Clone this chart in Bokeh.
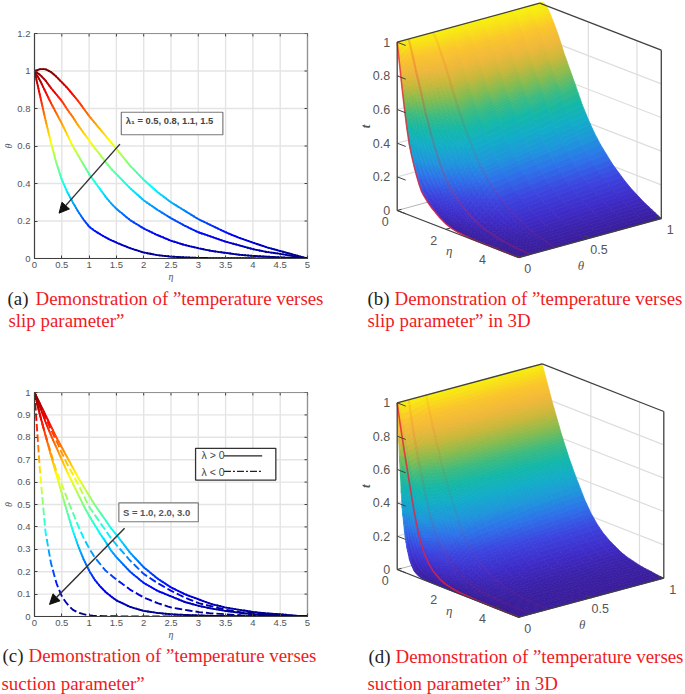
from bokeh.plotting import figure
from bokeh.layouts import column, row
from bokeh.models import (Range1d, LinearAxis, FixedTicker, Label, Arrow, NormalHead)
from bokeh.core.properties import value
from bokeh.embed import file_html
from bokeh.resources import INLINE
import numpy as np

ETA = [0, .1, .2, .3, .4, .5, .6, .7, .8, .9, 1, 1.1, 1.2, 1.3, 1.4, 1.5, 1.75, 2, 2.25, 2.5,
       2.75, 3, 3.25, 3.5, 3.75, 4, 4.25, 4.5, 4.75, 5]

# panel (a): slip parameter curves
A1 = [1, 1.01, 1.01, .995, .97, .94, .91, .875, .84, .80, .76, .725, .69, .655, .62, .585, .495, .42,
      .355, .30, .255, .21, .175, .14, .11, .085, .06, .04, .02, 0]
A2 = [1, .98, .95, .91, .875, .84, .795, .755, .71, .67, .63, .59, .555, .515, .48, .45, .375, .31,
      .26, .215, .175, .14, .115, .09, .07, .05, .035, .025, .012, 0]
A3 = [1, .95, .89, .83, .775, .72, .66, .60, .55, .50, .45, .41, .37, .33, .295, .265, .205, .16,
      .125, .095, .072, .055, .04, .03, .02, .014, .01, .006, .003, 0]
A4 = [1, .87, .74, .62, .51, .42, .355, .30, .25, .207, .17, .148, .13, .113, .098, .085, .055, .032,
      .018, .01, .006, .003, .002, .001, .001, .001, 0, 0, 0, 0]

# panel (c): suction parameter curves, solid and dashed
S1 = [1, .95, .90, .85, .80, .755, .71, .665, .62, .58, .54, .50, .465, .43, .395, .365, .285, .22,
      .17, .13, .10, .077, .055, .04, .03, .02, .014, .01, .004, 0]
D1 = [1, .945, .89, .835, .785, .73, .68, .635, .59, .54, .49, .455, .42, .385, .35, .32, .25, .19,
      .15, .115, .085, .06, .045, .03, .02, .015, .01, .006, .003, 0]
S2 = [1, .935, .87, .81, .755, .70, .645, .595, .545, .495, .45, .41, .37, .335, .295, .265, .20, .15,
      .115, .09, .065, .048, .035, .025, .017, .01, .007, .004, .002, 0]
D2 = [1, .90, .81, .73, .65, .59, .525, .465, .405, .35, .305, .265, .235, .205, .185, .165, .12, .085,
      .06, .04, .03, .02, .014, .01, .006, .004, .002, .001, .001, 0]
S3 = [1, .90, .81, .72, .635, .55, .465, .385, .315, .255, .205, .165, .135, .11, .09, .072, .043, .025,
      .016, .01, .007, .005, .003, .002, .001, .001, 0, 0, 0, 0]
D3 = [1, .65, .38, .24, .15, .09, .055, .03, .018, .01, .005, .003, .002, .001, .001, .001, 0, 0,
      0, 0, 0, 0, 0, 0, 0, 0, 0, 0, 0, 0]

X_TICKS = [0, .5, 1, 1.5, 2, 2.5, 3, 3.5, 4, 4.5, 5]
X_LABELS = ["0", "0.5", "1", "1.5", "2", "2.5", "3", "3.5", "4", "4.5", "5"]
YA_TICKS = [0, .2, .4, .6, .8, 1, 1.2]
YA_LABELS = ["0", "0.2", "0.4", "0.6", "0.8", "1", "1.2"]
YC_TICKS = [0, .1, .2, .3, .4, .5, .6, .7, .8, .9, 1]
YC_LABELS = ["0", "0.1", "0.2", "0.3", "0.4", "0.5", "0.6", "0.7", "0.8", "0.9", "1"]
T_TICKS = [0, .2, .4, .6, .8, 1]
T_LABELS = ["0", "0.2", "0.4", "0.6", "0.8", "1"]
ETA3D_TICKS = [0, 2, 4]
THETA3D_TICKS = [0, .5, 1]

# 3D surfaces: which curve lies at which theta
THETA_B = [0, .08, .25, 1]
ROWS_B = [A4, A3, A2, A1]
THETA_D = [0, .02, .08, .2, .55, 1]
ROWS_D = [D3, S3, D2, S2, D1, S1]

SANS = "Liberation Sans"
SERIF = "Liberation Serif"
GREY = "#555555"
DARK = "#404040"
RED = "#f01a24"
BLACK = "#222222"


def jet(v):
    v = float(np.clip(v, 0, 1))
    r = np.clip(min(4 * v - 1.5, -4 * v + 4.5), 0, 1)
    g = np.clip(min(4 * v - 0.5, -4 * v + 3.5), 0, 1)
    b = np.clip(min(4 * v + 0.5, -4 * v + 2.5), 0, 1)
    return "#%02x%02x%02x" % (int(r * 255), int(g * 255), int(b * 255))


PAR_T = [0, .08, .16, .25, .33, .42, .5, .58, .66, .74, .82, .9, 1]
PAR_R = [58, 63, 60, 46, 31, 18, 20, 61, 133, 200, 240, 251, 248]
PAR_G = [29, 44, 69, 114, 150, 174, 184, 187, 188, 184, 184, 197, 240]
PAR_B = [154, 200, 224, 234, 220, 200, 168, 128, 80, 58, 58, 44, 12]


def parula(v):
    return "#%02x%02x%02x" % (int(np.interp(v, PAR_T, PAR_R)), int(np.interp(v, PAR_T, PAR_G)),
                              int(np.interp(v, PAR_T, PAR_B)))


def captions(p, lines):
    for x, base, txt, col in lines:
        p.text([x], [base], text=[txt], text_font=value(SERIF), text_font_size="18.9px", text_color=col,
               text_baseline="alphabetic")


def caption_fig(w, top, bottom, lines):
    p = figure(width=w, height=bottom - top, x_range=Range1d(0, w), y_range=Range1d(bottom, top),
               toolbar_location=None, output_backend="svg", min_border=0, x_axis_type=None, y_axis_type=None,
               outline_line_color=None, frame_align=False)
    p.grid.visible = False
    captions(p, lines)
    return p


def colored_curve(p, y, sx, sy, on=3.0, off=0.0, width=1.9):
    """Stroke one curve piece by piece so that its colour follows the value (jet)."""
    eta = np.array(ETA, float)
    y = np.array(y, float)
    xs = eta * sx
    ys = y * sy
    s = np.concatenate([[0], np.cumsum(np.hypot(np.diff(xs), np.diff(ys)))])
    start = 0.0
    mx, my, cols = [], [], []
    while start < s[-1]:
        end = min(start + on, s[-1])
        pts = np.linspace(start, end, 3)
        ex = np.interp(pts, s, eta)
        ey = np.interp(pts, s, y)
        mx.append(list(ex))
        my.append(list(ey))
        cols.append(jet(ey.mean()))
        start = end + off
    p.multi_line(mx, my, line_color=cols, line_width=width, line_cap="butt" if off else "round")


def panel2d(w, h, left, right, top, bottom, y_max, yt, yl):
    p = figure(width=w, height=h, x_range=Range1d(0, 5), y_range=Range1d(0, y_max),
               toolbar_location=None, output_backend="svg", min_border_left=left, min_border_right=right,
               min_border_top=top, min_border_bottom=bottom, x_axis_type=None, y_axis_type=None,
               outline_line_color=DARK, outline_line_width=1.2, frame_align=False)
    xo = dict(zip(X_TICKS, X_LABELS))
    yo = dict(zip(yt, yl))
    common = dict(major_tick_in=3, major_tick_out=0, minor_tick_line_color=None, axis_line_color=DARK,
                  major_tick_line_color=DARK, major_label_text_font=SANS, major_label_text_font_size="9.5px",
                  major_label_text_color=GREY, axis_label_text_font=SERIF, axis_label_text_font_size="10px",
                  axis_label_text_font_style="italic", axis_label_text_color=GREY)
    ax = LinearAxis(ticker=FixedTicker(ticks=X_TICKS), major_label_overrides=xo, axis_label="η",
                    major_label_standoff=3, axis_label_standoff=0, **common)
    ay = LinearAxis(ticker=FixedTicker(ticks=yt), major_label_overrides=yo, axis_label="θ",
                    major_label_standoff=4, axis_label_standoff=0, **common)
    p.add_layout(ax, "below")
    p.add_layout(ay, "left")
    p.xgrid.visible = False
    # grid
    p.segment(x0=X_TICKS, y0=0, x1=X_TICKS, y1=y_max, line_color="#e4e4e4", line_width=1.4)
    p.segment(x0=0, y0=yt, x1=5, y1=yt, line_color="#e4e4e4", line_width=1.4)
    # inward ticks of the opposite sides
    dx = 3 / (w - left - right) * 5
    dy = 3 / (h - top - bottom) * y_max
    p.segment(x0=X_TICKS, y0=y_max, x1=X_TICKS, y1=y_max - dy, line_color=DARK)
    p.segment(x0=5, y0=yt, x1=5 - dx, y1=yt, line_color=DARK)
    return p


def add_arrow(p, x0, y0, x1, y1):
    p.add_layout(Arrow(end=NormalHead(size=10, fill_color="#111111", line_color="#111111"),
                       x_start=x0, y_start=y0, x_end=x1, y_end=y1, line_color="#333333", line_width=1.5))


def panel3d(w, h, y_top, o, thetas, rows, reds):
    ox, oy, ex, ey, tx, ty, tz = o
    p = figure(width=w, height=h, x_range=Range1d(345, 345 + w), y_range=Range1d(y_top + h, y_top),
               toolbar_location=None, output_backend="svg", min_border=0, x_axis_type=None, y_axis_type=None,
               outline_line_color=None, frame_align=False)
    p.grid.visible = False

    def pr(e, th, t):
        e, th, t = np.asarray(e, float), np.asarray(th, float), np.asarray(t, float)
        return ox + ex * e / 5 + tx * th, oy + ey * e / 5 - ty * th - tz * t

    def seg(pts, color, width, alpha=1.0):
        x0, y0 = pr(*np.array([a for a, b in pts]).T)
        x1, y1 = pr(*np.array([b for a, b in pts]).T)
        p.segment(x0=x0, y0=y0, x1=x1, y1=y1, line_color=color, line_width=width, line_alpha=alpha)

    # walls
    grid = []
    for t in T_TICKS[1:-1]:
        grid += [((0, 0, t), (0, 1, t)), ((0, 1, t), (5, 1, t))]
    for e in ETA3D_TICKS[1:]:
        grid += [((e, 1, 0), (e, 1, 1)), ((e, 0, 0), (e, 1, 0))]
    grid += [((0, .5, 0), (0, .5, 1)), ((0, .5, 0), (5, .5, 0))]
    seg(grid, "#dedede", 1.2)
    seg([((0, 0, 0), (0, 1, 0)), ((0, 1, 0), (5, 1, 0)), ((0, 1, 0), (0, 1, 1))], "#b5b5b5", 1)

    # surface, painted back to front; the read curves are only refined for shading
    eta = np.array(ETA, float)
    e_f = np.concatenate([np.linspace(eta[i], eta[i + 1], 3 if i < 18 else 2, endpoint=False) for i in range(len(eta) - 1)] + [[5.0]])
    th = np.array(thetas, float)
    th_f = np.concatenate([np.linspace(th[i], th[i + 1], 7, endpoint=False) for i in range(len(th) - 1)] + [[1.0]])
    table = np.array([np.interp(e_f, eta, r) for r in rows])
    grid_t = np.array([[np.interp(tv, th, table[:, j]) for j in range(len(e_f))] for tv in th_f])
    qx, qy, qc = [], [], []
    for i in range(len(th_f) - 2, -1, -1):
        for j in range(len(e_f) - 1):
            es = [e_f[j], e_f[j + 1], e_f[j + 1], e_f[j]]
            ts = [th_f[i], th_f[i], th_f[i + 1], th_f[i + 1]]
            vs = [grid_t[i, j], grid_t[i, j + 1], grid_t[i + 1, j + 1], grid_t[i + 1, j]]
            x, y = pr(es, ts, vs)
            qx.append(x.tolist())
            qy.append(y.tolist())
            qc.append(parula(float(np.mean(vs))))
    p.patches(qx, qy, fill_color=qc, line_color=qc, line_width=0.7)

    # red traces of the curves
    for r, tv, alpha, lw in reds:
        x, y = pr(eta, np.full(len(eta), tv), np.array(r))
        p.line(x, y, line_color="#e8203a", line_alpha=alpha, line_width=lw)

    # box
    seg([((0, 0, 0), (0, 0, 1)), ((0, 0, 1), (0, 1, 1)), ((0, 1, 1), (5, 1, 1)), ((5, 1, 1), (5, 1, 0)),
         ((0, 0, 0), (5, 0, 0)), ((5, 0, 0), (5, 1, 0))], DARK, 1.3)
    # ticks
    tick = [((0, 0, t), (.35, 0, t)) for t in T_TICKS]
    tick += [((e, 0, 0), (e, .03, 0)) for e in ETA3D_TICKS]
    tick += [((5, t, 0), (4.75, t, 0)) for t in THETA3D_TICKS]
    seg(tick, DARK, 1)

    # tick labels
    x, y = pr(np.zeros(len(T_TICKS)), np.zeros(len(T_TICKS)), T_TICKS)
    p.text(x - 7, y, text=T_LABELS, text_align="right", text_baseline="middle", text_font=value(SANS),
           text_font_size="12.5px", text_color=GREY)
    x, y = pr(ETA3D_TICKS, np.zeros(3), np.zeros(3))
    p.text(x - 12, y + 11, text=[str(v) for v in ETA3D_TICKS], text_align="center", text_baseline="middle",
           text_font=value(SANS), text_font_size="12.5px", text_color=GREY)
    x, y = pr(np.full(3, 5), THETA3D_TICKS, np.zeros(3))
    p.text(x + 9, y + 11, text=["0", "0.5", "1"], text_align="center", text_baseline="middle",
           text_font=value(SANS), text_font_size="12.5px", text_color=GREY)
    x, y = pr([3], [0], [0])
    p.text(x - 21, y + 12, text=["η"], text_align="center", text_baseline="middle", text_font=value(SERIF),
           text_font_style="italic", text_font_size="13px", text_color=GREY)
    x, y = pr([5], [.5], [0])
    p.text(x - 9, y + 27, text=["θ"], text_align="center", text_baseline="middle", text_font=value(SERIF),
           text_font_style="italic", text_font_size="13px", text_color=GREY)
    x, y = pr([0], [0], [.5])
    p.text(x - 32, y, text=["t"], text_align="center", text_baseline="middle", text_font=value(SERIF),
           text_font_style="bold italic", text_font_size="13px", text_color=GREY, angle=np.pi / 2)
    return p


# ---------- (a)
a = panel2d(345, 286, 34, 38, 33, 28, 1.2, YA_TICKS, YA_LABELS)
sx, sy = 272.5 / 5, 225 / 1.2
for c in (A1, A2, A3, A4):
    colored_curve(a, c, sx, sy)
a.quad(left=1.59, right=3.45, bottom=.66, top=.78, fill_color="white", line_color="#7a7a7a", line_width=1.2)
a.add_layout(Label(x=1.67, y=.735, text="λ₁ = 0.5, 0.8, 1.1, 1.5", text_font=SANS, text_font_size="9.4px",
                   text_font_style="bold", text_color="#444444", text_baseline="alphabetic"))
add_arrow(a, 1.565, .61, .45, .242)
cap_a = caption_fig(345, 286, 345, [(7, 297.5, "(a)", BLACK), (35, 297.5, "Demonstration of ”temperature verses", RED),
                                    (8, 319.5, "slip parameter”", RED)])

# ---------- (b)
b = panel3d(340, 345, 0, (396.7, 210, 121.6, 47, 142.5, 39, 168.3), THETA_B, ROWS_B,
            [(A4, 0, .75, 1.6), (A3, THETA_B[1], .22, 2.2), (A2, THETA_B[2], .1, 2.2)])
captions(b, [(367, 297.5, "(b)", BLACK), (394, 297.5, "Demonstration of ”temperature verses", RED),
             (367, 319.5, "slip parameter” in 3D", RED)])

# ---------- (c)
c_fig = panel2d(345, 298, 34, 38, 47, 27, 1, YC_TICKS, YC_LABELS)
sx, sy = 273 / 5, 224
for c in (S1, S2, S3):
    colored_curve(c_fig, c, sx, sy)
for c in (D1, D2, D3):
    colored_curve(c_fig, c, sx, sy, on=7.5, off=3.0)
c_fig.quad(left=2.95, right=4.42, bottom=.609, top=.751, fill_color="white", line_color="#333333", line_width=1.3)
c_fig.add_layout(Label(x=3.06, y=.72, text="λ > 0", text_font=SANS, text_font_size="10.5px", text_color="#444444",
                       text_baseline="alphabetic"))
c_fig.add_layout(Label(x=3.06, y=.645, text="λ < 0", text_font=SANS, text_font_size="10.5px", text_color="#444444",
                       text_baseline="alphabetic"))
c_fig.line([3.47, 4.17], [.717, .717], line_color="#222222", line_width=1.3)
c_fig.line([3.47, 4.18], [.648, .648], line_color="#222222", line_width=1.2, line_dash="7 2 2 2")
c_fig.quad(left=1.545, right=3.0, bottom=.423, top=.507, fill_color="white", line_color="#7a7a7a", line_width=1.2)
c_fig.add_layout(Label(x=1.62, y=.466, text="S = 1.0, 2.0, 3.0", text_font=SANS, text_font_size="9.5px",
                       text_font_style="bold", text_color="#555555", text_baseline="alphabetic"))
add_arrow(c_fig, 1.65, .394, .275, .054)
cap_c = caption_fig(345, 643, 694, [(2, 654.5, "(c)", BLACK), (28, 654.5, "Demonstration of ”temperature verses", RED),
                                    (1, 682.5, "suction parameter”", RED)])

# ---------- (d)
d = panel3d(340, 349, 345, (396.7, 569, 121.6, 47.7, 145, 39, 166.7), THETA_D, ROWS_D,
            [(S3, 0, .8, 1.6), (D2, THETA_D[2], .1, 2.2), (S2, THETA_D[3], .08, 2.2)])
captions(d, [(368, 655.5, "(d)", BLACK), (395, 655.5, "Demonstration of ”temperature verses", RED),
             (367, 682.5, "suction parameter” in 3D", RED)])

page = column(row(column(a, cap_a, spacing=0), b, spacing=0),
              row(column(c_fig, cap_c, spacing=0), d, spacing=0), spacing=0)
open("out.html", "w").write(file_html(page, INLINE))
